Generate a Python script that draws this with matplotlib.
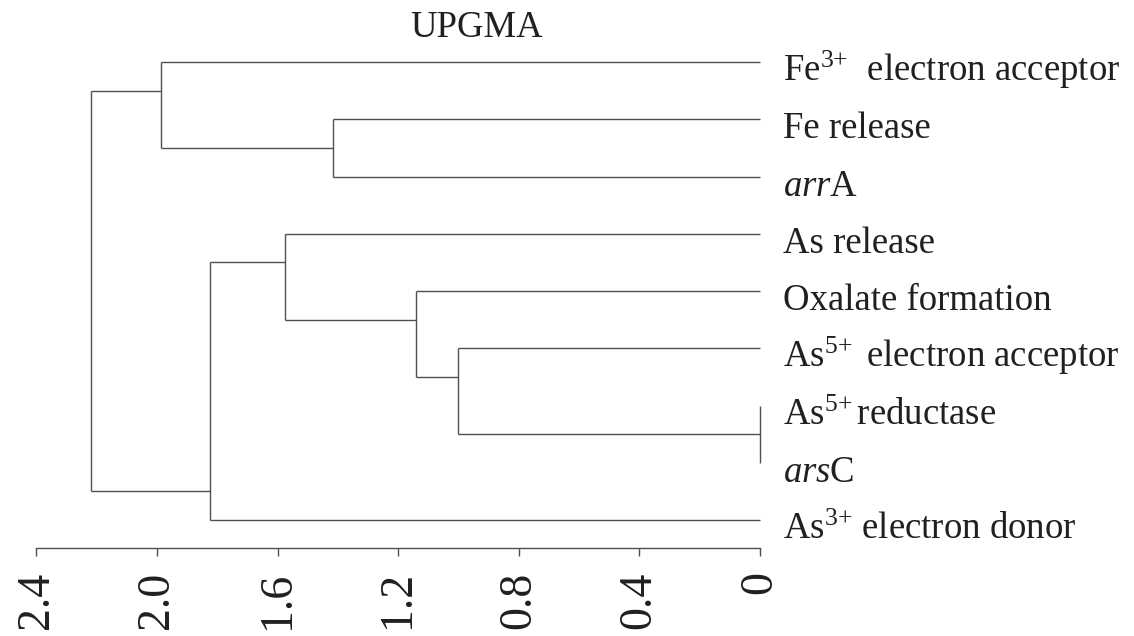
import numpy as np
import matplotlib
matplotlib.use('Agg')
import matplotlib.pyplot as plt

plt.rcParams['font.family'] = ['Liberation Serif', 'DejaVu Serif']
plt.rcParams['mathtext.fontset'] = 'custom'
plt.rcParams['mathtext.rm'] = 'Liberation Serif'
plt.rcParams['mathtext.it'] = 'Liberation Serif:italic'

# leaves, top to bottom
leaf_labels = [
    r'Fe$^{\mathrm{3}{+}}$  electron acceptor',
    'Fe release',
    r'$\mathit{arr}$A',
    'As release',
    'Oxalate formation',
    r'As$^{\mathrm{5}{+}}\,$ electron acceptor',
    r'As$^{\mathrm{5}{+}}\,$reductase',
    r'$\mathit{ars}$C',
    r'As$^{\mathrm{3}{+}}$ electron donor',
]

# UPGMA merges (left child, right child, distance); new clusters get ids 9, 10, ...
merge_left = [6, 5, 4, 3, 1, 12, 0, 15]
merge_right = [7, 9, 10, 11, 2, 8, 13, 14]
merge_dist = [0.0, 1.003, 1.141, 1.576, 1.418, 1.825, 1.988, 2.220]

ticks = [2.4, 2.0, 1.6, 1.2, 0.8, 0.4, 0]
tick_labels = ['2.4', '2.0', '1.6', '1.2', '0.8', '0.4', '0']

n = len(leaf_labels)
lc = '#505050'

fig = plt.figure(figsize=(11.34, 6.36), dpi=100)
ax = fig.add_axes([36.5 / 1134, 1 - 547.7 / 636, (760 - 36.5) / 1134, 514.3 / 636])

# each cluster: (height, y of joining point, first leaf, last leaf)
nodes = {i: (0.0, float(i), i, i) for i in range(n)}
for k, (a, b, d) in enumerate(zip(merge_left, merge_right, merge_dist)):
    ha, ya, fa, la = nodes[a]
    hb, yb, fb, lb = nodes[b]
    ax.plot([ha, d], [ya, ya], color=lc, lw=1.0, solid_capstyle='butt', clip_on=False)
    ax.plot([hb, d], [yb, yb], color=lc, lw=1.0, solid_capstyle='butt', clip_on=False)
    ax.plot([d, d], [ya, yb], color=lc, lw=1.0, solid_capstyle='butt', clip_on=False)
    # the joining point sits at the boundary between the two child groups
    nodes[n + k] = (d, (la + fb) / 2, min(fa, fb), max(la, lb))

for i, lab in enumerate(leaf_labels):
    ax.annotate(lab, xy=(0, i), xytext=(16.5, -13.7), textcoords='offset points',
                ha='left', va='baseline', fontsize=26.5, color='#231f20',
                annotation_clip=False)

ax.set_xlim(2.4, 0)
ax.set_ylim(8.482, -0.5)
ax.set_xticks(ticks)
ax.set_xticklabels(tick_labels, rotation=90, fontsize=33, color='#231f20')
ax.set_yticks([])
for s in ['top', 'right', 'left']:
    ax.spines[s].set_visible(False)
ax.spines['bottom'].set_color(lc)
ax.spines['bottom'].set_linewidth(1.0)
ax.tick_params(axis='x', direction='out', length=6, width=1.0, color=lc, pad=11)
ax.patch.set_visible(False)

fig.text(476.7 / 1134, 1 - 37 / 636, 'UPGMA', ha='center', va='baseline',
         fontsize=26.5, color='#231f20')

fig.savefig('out.png', dpi=100)
